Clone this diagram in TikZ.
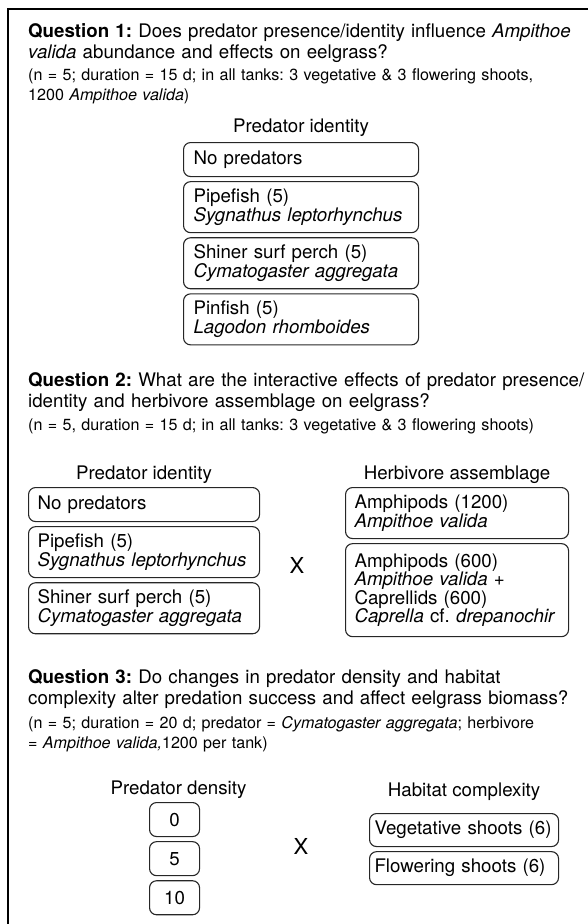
\documentclass[tikz,border=0pt]{standalone}
\usepackage{fontspec}
\setmainfont{TeX Gyre Heros}
\usetikzlibrary{
chains,
scopes,
positioning
}
\frenchspacing
\newcommand\qfont{\fontsize{18.7}{21}\selectfont}
\newcommand\nfont{\fontsize{16.1}{20.5}\selectfont}
\newcommand\bfont{\fontsize{18.7}{18.5}\selectfont}

\begin{document}
\begin{tikzpicture}[
    x=1pt, y=-1pt,
    node distance=4pt,
    qtext/.style={anchor=base west, inner sep=0pt, align=left, text width=560pt, font=\qfont},
    note/.style={qtext, font=\nfont},
    head/.style={inner sep=0pt, font=\qfont},
    base/.style={draw=black!85, line width=1.1pt, rounded corners=7pt, inner xsep=10pt, inner ysep=0pt, font=\bfont},
    opt/.style={base, align=left, minimum height=34pt},
    optt/.style={opt, minimum height=51pt},
    num/.style={base, align=center, text width=30pt, minimum height=34pt},
    times/.style={font=\fontsize{22}{22}\selectfont}]
  \useasboundingbox (0,0) rectangle (588,924);
  \draw[line width=1.5pt] (588,9) -- (8,9) -- (8,924);

  \node[qtext] (q1) at (28,37) {\textbf{Question 1:} Does predator presence/identity influence \textit{Ampithoe}\\\textit{valida} abundance and effects on eelgrass?};
  \node[note] (q1n) at (28,80) {(n = 5; duration = 15 d; in all tanks: 3 vegetative \& 3 flowering shoots,\\1200 \textit{Ampithoe valida})};
  { [start chain=q1 going below]
    \node[opt, text width=215pt, anchor=north west] (q1a) at (183,142) {No predators};
    \chainin (q1a);
    \node[optt, text width=215pt, on chain] (q1b) {Pipefish (5)\\\textit{Sygnathus leptorhynchus}};
    \node[optt, text width=215pt, on chain] (q1c) {Shiner surf perch (5)\\\textit{Cymatogaster aggregata}};
    \node[optt, text width=215pt, on chain] (q1d) {Pinfish (5)\\\textit{Lagodon rhomboides}};
  }
  \node[head, above=5pt of q1a] (q1h) {Predator identity};

  \node[qtext] (q2) at (28,386) {\textbf{Question 2:} What are the interactive effects of predator presence/\\identity and herbivore assemblage on eelgrass?};
  \node[note] (q2n) at (28,430) {(n = 5, duration = 15 d; in all tanks: 3 vegetative \& 3 flowering shoots)};
  { [start chain=q2 going below]
    \node[opt, text width=213pt, inner xsep=9pt, anchor=north west] (q2a) at (28,487) {No predators};
    \chainin (q2a);
    \node[optt, text width=213pt, inner xsep=9pt, on chain] (q2b) {Pipefish (5)\\\textit{Sygnathus leptorhynchus}};
    \node[optt, text width=213pt, inner xsep=9pt, on chain] (q2c) {Shiner surf perch (5)\\\textit{Cymatogaster aggregata}};
  }
  { [start chain=q2h going below]
    \node[optt, text width=205pt, inner xsep=9pt, anchor=north west] (q2h1) at (345,487) {Amphipods (1200)\\\textit{Ampithoe valida}};
    \chainin (q2h1);
    \node[opt, text width=205pt, inner xsep=9pt, minimum height=93pt, on chain] (q2h2) {Amphipods (600)\\\textit{Ampithoe valida} +\\Caprellids (600)\\\textit{Caprella} cf. \textit{drepanochir}};
  }
  \node[head, above=3pt of q2a] (q2lh) {Predator identity};
  \node[head, above=3pt of q2h1] (q2hh) {Herbivore assemblage};
  \node[times] (q2x) at (297,565) {X};

  \node[qtext] (q3) at (28,683) {\textbf{Question 3:} Do changes in predator density and habitat\\complexity alter predation success and affect eelgrass biomass?};
  \node[note] (q3n) at (28,728) {(n = 5; duration = 20 d; predator = \textit{Cymatogaster aggregata}; herbivore\\= \textit{Ampithoe valida,}1200 per tank)};
  { [start chain=q3 going below]
    \node[num, anchor=north west] (q3d0) at (149,802) {0};
    \chainin (q3d0);
    \node[num, on chain] (q3d5) {5};
    \node[num, on chain] (q3d10) {10};
  }
  { [start chain=q3h going below]
    \node[opt, text width=179pt, inner xsep=5pt, minimum height=33pt, anchor=north west] (q3veg) at (369,813) {Vegetative shoots (6)};
    \chainin (q3veg);
    \node[opt, text width=179pt, inner xsep=5pt, minimum height=33pt, on chain] (q3flo) {Flowering shoots (6)};
  }
  \node[head, above=3pt of q3d0, xshift=4pt] (q3dh) {Predator density};
  \node[head, above=12pt of q3veg] (q3hh) {Habitat complexity};
  \node[times] (q3x) at (301,846) {X};
\end{tikzpicture}
\end{document}
